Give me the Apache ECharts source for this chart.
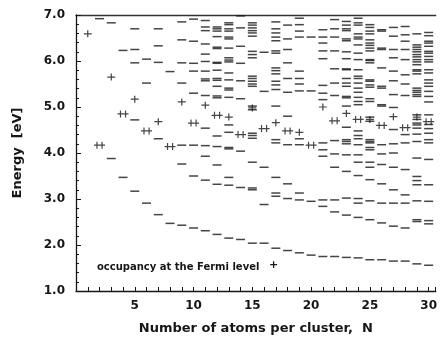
<!DOCTYPE html>
<html>
<head>
<meta charset="utf-8">
<script src="https://cdn.jsdelivr.net/npm/echarts@6/dist/echarts.min.js"></script>
<style>
  html, body { margin: 0; padding: 0; background: #fff; }
  #chart { width: 440px; height: 345px; }
</style>
</head>
<body>
<div id="chart"></div>
<script>
// cluster size N = 1..30
var sizes = [1, 2, 3, 4, 5, 6, 7, 8, 9, 10, 11, 12, 13, 14, 15,
             16, 17, 18, 19, 20, 21, 22, 23, 24, 25, 26, 27, 28, 29, 30];

// one-electron levels (eV) for each N
var levels = [
  [],
  [6.92],
  [6.83, 3.88],
  [6.23, 3.47],
  [6.70, 6.25, 5.96, 4.72, 3.17],
  [6.04, 5.52, 2.91],
  [6.70, 6.33, 5.97, 4.31, 2.66],
  [5.77, 2.47],
  [6.85, 6.46, 5.96, 5.52, 4.17, 3.76, 2.43],
  [6.91, 6.43, 5.95, 5.78, 5.30, 4.17, 3.50, 2.37],
  [6.88, 6.74, 6.66, 6.37, 6.15, 5.99, 5.78, 5.61, 5.57, 5.25, 4.54, 4.16, 3.93, 3.41, 2.31],
  [6.74, 6.70, 6.65, 6.53, 6.30, 6.27, 5.97, 5.95, 5.80, 5.62, 5.58, 5.45, 5.24, 5.20, 4.37, 4.14, 3.74, 3.32, 2.23],
  [6.83, 6.79, 6.70, 6.65, 6.52, 6.48, 6.28, 6.07, 6.02, 5.98, 5.74, 5.59, 5.41, 5.37, 5.21, 4.61, 4.45, 4.12, 4.09, 3.47, 3.30, 2.15],
  [6.98, 6.72, 6.32, 5.95, 5.57, 5.18, 4.04, 3.25, 2.12],
  [6.83, 6.78, 6.72, 6.66, 6.61, 6.54, 6.21, 6.14, 6.07, 5.67, 5.62, 5.56, 5.50, 5.45, 5.02, 4.94, 4.43, 4.38, 4.32, 3.80, 3.24, 3.20, 2.04],
  [6.19, 5.34, 3.69, 2.88, 2.04],
  [6.85, 6.70, 6.61, 6.52, 6.44, 6.22, 6.17, 5.85, 5.79, 5.72, 5.56, 5.48, 5.38, 5.02, 4.29, 4.22, 3.47, 3.13, 3.06, 1.93],
  [6.78, 6.48, 6.25, 5.96, 5.62, 5.32, 4.80, 4.18, 3.33, 3.01, 1.88],
  [6.93, 6.79, 6.65, 6.52, 5.78, 5.62, 5.50, 5.35, 4.31, 4.18, 3.13, 2.98, 1.83],
  [6.52, 5.35, 2.95, 1.78],
  [6.68, 6.52, 6.39, 6.22, 6.05, 5.47, 5.30, 5.16, 4.22, 4.07, 3.93, 2.98, 2.84, 1.75],
  [6.90, 6.70, 6.52, 6.22, 5.83, 5.52, 5.25, 4.27, 3.98, 3.69, 2.98, 2.72, 1.75],
  [6.86, 6.78, 6.70, 6.66, 6.48, 6.44, 6.20, 6.05, 5.83, 5.81, 5.62, 5.52, 5.45, 5.23, 5.20, 5.02, 4.56, 4.29, 4.25, 4.20, 3.96, 3.60, 3.02, 2.65, 1.73],
  [6.93, 6.83, 6.78, 6.59, 6.52, 6.48, 6.35, 6.17, 6.03, 5.81, 5.67, 5.62, 5.52, 5.41, 5.32, 5.21, 5.12, 5.05, 4.48, 4.38, 4.31, 4.18, 3.96, 3.80, 3.51, 3.01, 2.91, 2.60, 1.72],
  [6.79, 6.73, 6.65, 6.59, 6.46, 6.39, 6.34, 6.28, 6.22, 6.03, 6.01, 5.96, 5.59, 5.56, 5.48, 5.43, 5.18, 5.12, 4.78, 4.69, 4.29, 4.25, 4.22, 4.12, 4.07, 3.80, 3.69, 3.42, 2.96, 2.55, 1.68],
  [6.68, 6.65, 6.28, 6.25, 5.85, 5.45, 5.41, 5.05, 5.02, 4.18, 3.98, 3.75, 3.33, 2.91, 2.48, 1.68],
  [6.73, 6.54, 6.25, 6.07, 5.78, 5.57, 5.27, 4.99, 4.51, 4.20, 4.00, 3.69, 3.20, 2.91, 2.41, 1.65],
  [6.75, 6.57, 6.43, 6.25, 6.03, 5.70, 5.50, 5.25, 4.40, 4.22, 3.64, 3.09, 2.91, 2.37, 1.65],
  [6.59, 6.35, 6.30, 6.25, 6.20, 6.14, 6.09, 6.03, 5.98, 5.92, 5.81, 5.78, 5.72, 5.41, 5.36, 5.32, 5.27, 5.23, 4.83, 4.73, 4.65, 4.61, 4.54, 4.41, 4.25, 3.89, 3.49, 3.40, 3.31, 2.96, 2.55, 2.51, 1.59],
  [6.62, 6.55, 6.43, 6.39, 6.32, 6.21, 6.17, 6.10, 6.03, 5.98, 5.81, 5.74, 5.59, 5.52, 5.45, 5.34, 5.23, 5.11, 4.83, 4.62, 4.53, 4.43, 4.29, 4.22, 3.86, 3.31, 2.95, 2.53, 2.46, 1.56]
];

// Fermi level energy and its occupancy (1 = "+", 2 = "++")
var fermiE = [6.59, 4.17, 5.65, 4.85, 5.17, 4.48, 4.68, 4.14, 5.11, 4.65,
              5.04, 4.82, 4.78, 4.40, 4.98, 4.53, 4.66, 4.48, 4.45, 4.17,
              5.00, 4.70, 4.86, 4.73, 4.73, 4.60, 4.79, 4.55, 4.78, 4.68];
var fermiOcc = [1, 2, 1, 2, 1, 2, 1, 2, 1, 2, 1, 2, 1, 2, 1,
                2, 1, 2, 1, 2, 1, 2, 1, 2, 1, 2, 1, 2, 1, 2];

var xTickLabels = [5, 10, 15, 20, 25, 30];

var levelPts = [], singlePts = [], doublePts = [];
sizes.forEach(function (n, i) {
  levels[i].forEach(function (e) { levelPts.push([n, e]); });
  (fermiOcc[i] === 2 ? doublePts : singlePts).push([n, fermiE[i]]);
});

var font = "'DejaVu Sans', Arial, sans-serif";
var ink = '#161616';

var chart = echarts.init(document.getElementById('chart'), null, { renderer: 'canvas' });

chart.setOption({
  backgroundColor: '#fff',
  animation: false,
  grid: { left: 76, right: 3, top: 15, bottom: 54 },
  xAxis: [
    {
      type: 'value',
      min: 0,
      max: 30.6,
      interval: 1,
      name: 'Number of atoms per cluster,  N',
      nameLocation: 'middle',
      nameGap: 31,
      nameTextStyle: { color: ink, fontFamily: font, fontWeight: 'bold', fontSize: 13 },
      axisLine: { lineStyle: { color: ink, width: 1.3 } },
      axisTick: { inside: true, length: 4, lineStyle: { color: ink, width: 1 } },
      axisLabel: {
        color: ink, fontFamily: font, fontWeight: 'bold', fontSize: 12, margin: 9,
        formatter: function (v) { return xTickLabels.indexOf(v) >= 0 ? String(v) : ''; }
      },
      splitLine: { show: false }
    },
    {
      type: 'value',
      position: 'top',
      min: 0,
      max: 30.6,
      axisLine: { lineStyle: { color: '#333', width: 1.4 } },
      axisTick: { show: false },
      axisLabel: { show: false },
      splitLine: { show: false }
    }
  ],
  yAxis: {
    type: 'value',
    min: 1,
    max: 7,
    interval: 1,
    name: 'Energy  [eV]',
    nameLocation: 'middle',
    nameRotate: 90,
    nameGap: 52,
    nameTextStyle: { color: ink, fontFamily: font, fontWeight: 'bold', fontSize: 13 },
    axisLine: { show: true, lineStyle: { color: ink, width: 1.3 } },
    axisTick: { show: true, inside: true, length: 5, lineStyle: { color: ink } },
    minorTick: { show: true, splitNumber: 5, length: 3, lineStyle: { color: ink } },
    axisLabel: {
      color: ink, fontFamily: font, fontWeight: 'bold', fontSize: 12, margin: 11,
      formatter: function (v) { return v.toFixed(1); }
    },
    splitLine: { show: false },
    minorSplitLine: { show: false }
  },
  graphic: [
    {
      type: 'text', left: 97, top: 262,
      style: { text: 'occupancy at the Fermi level', fill: ink, font: 'bold 10px ' + font }
    },
    {
      type: 'text', left: 269, top: 260,
      style: { text: '+', fill: ink, font: 'bold 11px ' + font }
    }
  ],
  series: [
    {
      type: 'scatter',
      data: levelPts,
      symbol: 'rect',
      symbolSize: [9, 1.5],
      itemStyle: { color: ink },
      silent: true
    },
    {
      type: 'scatter',
      data: singlePts,
      symbol: 'path://M0,3.4h9v1.4h-9z M3.8,0h1.4v8.2h-1.4z',
      symbolSize: [8, 7],
      itemStyle: { color: ink },
      silent: true
    },
    {
      type: 'scatter',
      data: doublePts,
      symbol: 'path://M0,3.4h13v1.4h-13z M2.8,0h1.4v8.2h-1.4z M8.8,0h1.4v8.2h-1.4z',
      symbolSize: [11, 7],
      itemStyle: { color: ink },
      silent: true
    }
  ]
});

window.addEventListener('resize', function () { chart.resize(); });
</script>
</body>
</html>
